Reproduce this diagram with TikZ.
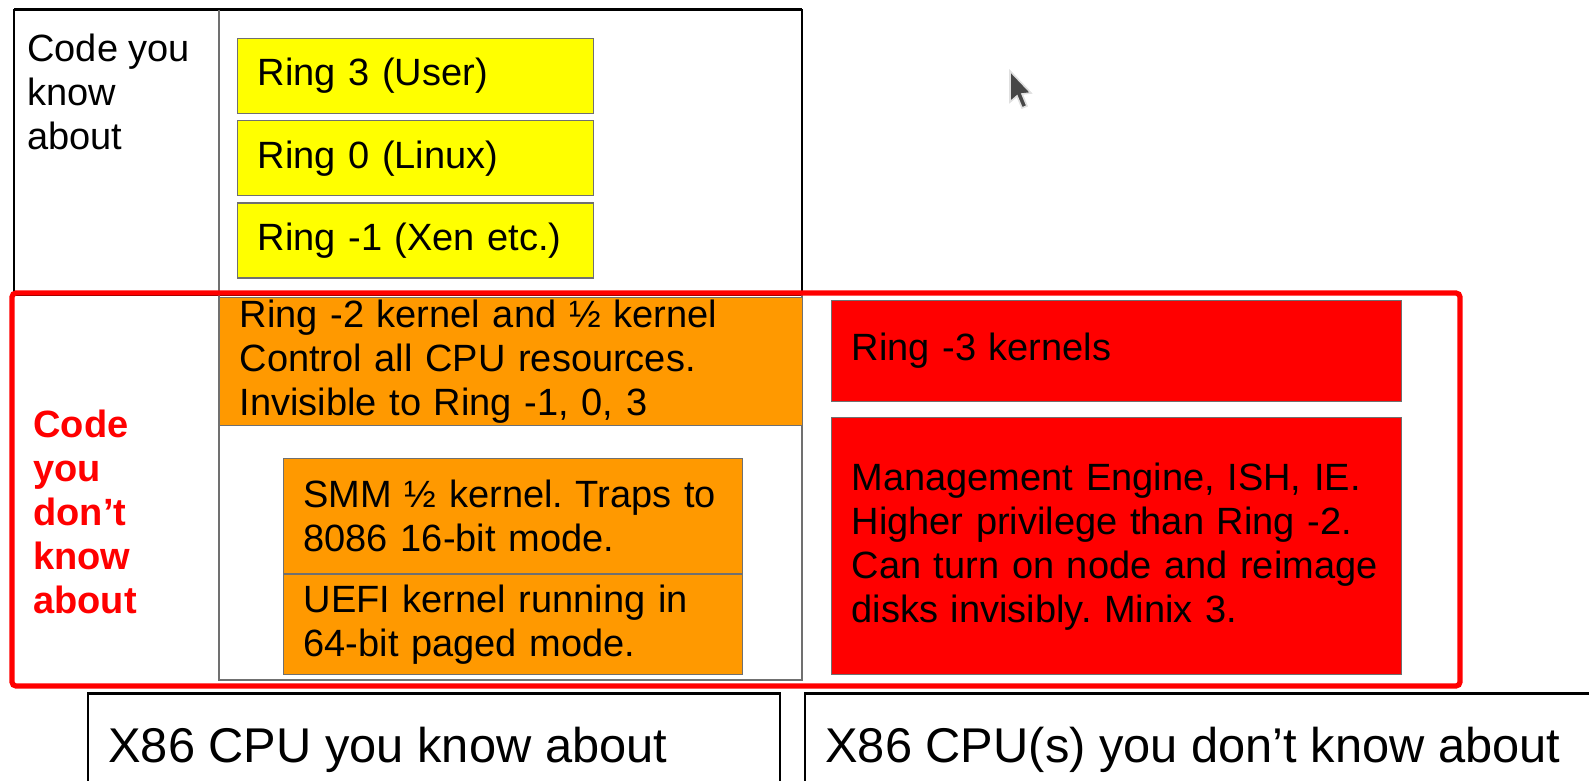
\documentclass[tikz,border=0pt]{standalone}
\usepackage{fontspec}
\setmainfont{Liberation Sans}
\frenchspacing
\usetikzlibrary{positioning}
\definecolor{ringyellow}{HTML}{FFFF00}
\definecolor{ringorange}{HTML}{FF9900}
\definecolor{ringred}{HTML}{FF0000}
\definecolor{edgegray}{HTML}{707070}

\begin{document}
\begin{tikzpicture}[%
		x=0.5pt,
		y=-0.5pt,
		node distance=3pt,
		ringbox/.style={%
			draw=edgegray,
			line width=0.6pt,
			anchor=north west,
			inner xsep=10pt,
			inner ysep=0pt,
			align=left,
			font=\fontsize{19}{22}\selectfont
		},
		yellowbox/.style={ringbox, fill=ringyellow, text width=158pt, minimum height=37.5pt},
		orangebox/.style={ringbox, fill=ringorange},
		redbox/.style={ringbox, fill=ringred, text width=265pt},
		sidetext/.style={anchor=north west, inner sep=0pt, align=left, font=\fontsize{19}{22}\selectfont},
		cputext/.style={anchor=base west, inner sep=0pt, font=\fontsize{24.4}{28}\selectfont}
		]
		\clip (0,0) rectangle (1589,781);
		\useasboundingbox (0,0) rectangle (1589,781);

		% table frame
		\draw[line width=0.6pt] (14,10) rectangle (802,295);
		\draw[line width=1.5pt] (14,10) -- (802,10);
		\draw[edgegray, line width=0.6pt] (219,10) -- (219,680) -- (802,680) -- (802,295);

		\node[sidetext] (known) at (27,34) {Code you\\know\\about};
		\node[yellowbox] (r3) at (237,38)                          {Ring 3 (User)};
		\node[yellowbox] (r0) [below=of r3]                        {Ring 0 (Linux)};
		\node[yellowbox] (r1) [below=of r0]                        {Ring -1 (Xen etc.)};

		\node[orangebox, text width=271.5pt, minimum height=64pt] (r2) at (219,297)
			{Ring -2 kernel and ½ kernel\\Control all CPU resources.\\Invisible to Ring -1, 0, 3};
		\node[orangebox, text width=209.5pt, minimum height=57.5pt] (smm) at (283,458)
			{SMM ½ kernel. Traps to\\8086 16-bit mode.};
		\node[orangebox, text width=209.5pt, minimum height=50pt] (uefi) [below=0pt of smm]
			{UEFI kernel running in\\64-bit paged mode.};

		\node[redbox, minimum height=50.5pt] (r3k) at (831,300)   {Ring -3 kernels};
		\node[redbox, minimum height=128.5pt] (me) [below=7.5pt of r3k]
			{Management Engine, ISH, IE.\\Higher privilege than Ring -2.\\Can turn on node and reimage\\disks invisibly. Minix 3.};

		\node[sidetext, text=ringred, font=\fontsize{19}{22}\selectfont\bfseries] (unknown) at (33,410)
			{Code\\you\\don’t\\know\\about};

		\draw[ringred, line width=2.6pt, rounded corners=2pt] (12,293) rectangle (1460,686);

		% cpu labels
		\draw[line width=0.6pt] (88,781) -- (88,693) -- (780,693) -- (780,781);
		\draw[line width=1.5pt] (88,693) -- (780,693);
		\draw[line width=0.6pt] (805,781) -- (805,693) -- (1589,693);
		\draw[line width=1.5pt] (805,693) -- (1589,693);
		\node[cputext] (cpu) at (108,762)                          {X86 CPU you know about};
		\node[cputext] (hidden) at (825,762)                       {X86 CPU(s) you don’t know about};

		% pointer
		\fill[black!72, draw=black!12, line width=0.8pt] (1010,71) -- (1010,102) -- (1017,96) -- (1022,108)
			-- (1027,106) -- (1022,94) -- (1031,93) -- cycle;
\end{tikzpicture}
\end{document}
